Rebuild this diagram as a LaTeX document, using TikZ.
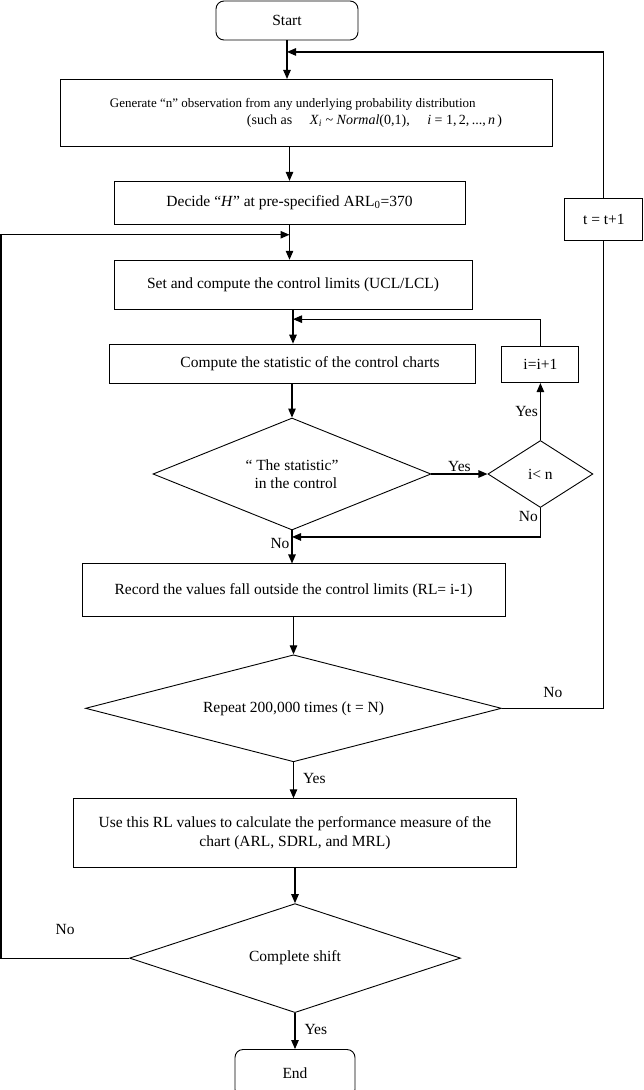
\documentclass[tikz,border=0pt]{standalone}
\usepackage{fontspec}
\setmainfont{Liberation Serif}
\usepackage{tikz}
\usetikzlibrary{arrows.meta,positioning,shapes.geometric}

\begin{document}
\begin{tikzpicture}[
  node distance=35pt and 56pt,
  box/.style={draw,rectangle,align=center,font=\fontsize{15.5}{18.5}\selectfont,inner sep=2pt,line width=0.9pt},
  term/.style={box,rounded corners=8pt},
  decision/.style={draw,diamond,align=center,font=\fontsize{15.5}{18.5}\selectfont,inner sep=0pt,line width=0.9pt},
  arr/.style={-{Triangle[length=9pt,width=7.5pt]},line width=1.1pt},
  back/.style={line width=0.9pt},
  lbl/.style={font=\fontsize{15.5}{18.5}\selectfont,inner sep=2pt}
]
\useasboundingbox (0,0) rectangle (643pt,-1090pt);

\node[term,minimum width=142pt,minimum height=39pt] (start) at (287pt,-20.5pt) {Start};
\node[box,minimum width=492pt,minimum height=67pt,align=left,font=\fontsize{13}{17}\selectfont,below=38.5pt of start,xshift=19pt] (gen)
  {Generate “n” observation from any underlying probability distribution\\
   \hspace*{137pt}{\fontsize{14}{17}\selectfont(such as\quad\ \textit{X}\textsubscript{\textit{i}}\ \textasciitilde\ \textit{Normal}(0,1),\quad\ \textit{i}\ =\ 1,\,2,\,...,\,\textit{n}\,)}};
\node[box,minimum width=351pt,minimum height=43pt,below=34pt of gen,xshift=-16.5pt] (dec) {Decide “\textit{H}” at pre-specified ARL\textsubscript{0}=370};
\node[box,minimum width=358pt,minimum height=49pt,below=35pt of dec,xshift=3.5pt] (set) {Set and compute the control limits (UCL/LCL)};
\node[box,minimum width=366pt,minimum height=39pt,below=34pt of set,xshift=-1pt] (comp) {\hspace*{36pt}Compute the statistic of the control charts};
\node[decision,aspect=2.48,minimum width=278pt,minimum height=112pt,below=34pt of comp] (stat) {“ The statistic”\\ \ \ in the control};
\node[box,minimum width=423pt,minimum height=53pt,below=33pt of stat,xshift=1.5pt] (rec) {Record the values fall outside the control limits (RL= i-1)};
\node[decision,aspect=3.9,minimum width=416pt,minimum height=107pt,below=37pt of rec] (rep) {Repeat 200,000 times (t = N)};
\node[box,minimum width=443pt,minimum height=69pt,below=36pt of rep,xshift=1.5pt] (use) {Use this RL values to calculate the performance measure of the\\chart (ARL, SDRL, and MRL)};
\node[decision,aspect=3.04,minimum width=331pt,minimum height=109pt,below=35pt of use] (shift) {Complete shift};
\node[term,minimum width=120pt,minimum height=48pt,below=36pt of shift] (end) {End};

% inner loop over i
\node[decision,aspect=1.57,minimum width=105pt,minimum height=67pt,right=56pt of stat] (ilt) {i\textless{} n};
\node[box,minimum width=77pt,minimum height=36pt,above=57pt of ilt] (inc) {i=i+1};
% outer loop over t
\node[box,minimum width=78pt,minimum height=42pt,right=99pt of dec,yshift=-17pt] (tinc) {t = t+1};

\coordinate[below=11.5pt of start.south] (j1);
\coordinate[below=10pt of dec.south] (j2);
\coordinate[below=9.5pt of set.south] (j4);
\coordinate[below=6.5pt of stat.south] (j3);

\draw[arr] (start.south) -- (start.south |- gen.north);
\draw[arr] (gen.south -| dec.north) -- (dec.north);
\draw[arr] (dec.south) -- (dec.south |- set.north);
\draw[arr] (set.south) -- (set.south |- comp.north);
\draw[arr] (comp.south -| stat.north) -- (stat.north);
\draw[arr] (stat.south) -- node[lbl,left,pos=0.4] {No} (stat.south |- rec.north);
\draw[arr] (rec.south -| rep.north) -- (rep.north);
\draw[arr] (rep.south) -- node[lbl,right=7pt,pos=0.45] {Yes} (rep.south |- use.north);
\draw[arr] (use.south -| shift.north) -- (shift.north);
\draw[arr] (shift.south) -- node[lbl,right=7pt,pos=0.45] {Yes} (shift.south |- end.north);

\draw[arr] (stat.east) -- node[lbl,above] {Yes} (ilt.west);
\draw[arr] (ilt.north) -- node[lbl,left] {Yes} (inc.south);
\draw[back,arr] (inc.north) |- (j4);
\draw[back,arr] (ilt.south) |- node[lbl,left,pos=0.15] {No} (j3);

\draw[back] (rep.east) -| node[lbl,above=8pt,pos=0.25] {No} (tinc.south);
\draw[back,arr] (tinc.north) |- (j1);
\draw[back,arr] (shift.west) -- node[lbl,above=21pt] {No} ++(-128pt,0) |- (j2);

\end{tikzpicture}
\end{document}
